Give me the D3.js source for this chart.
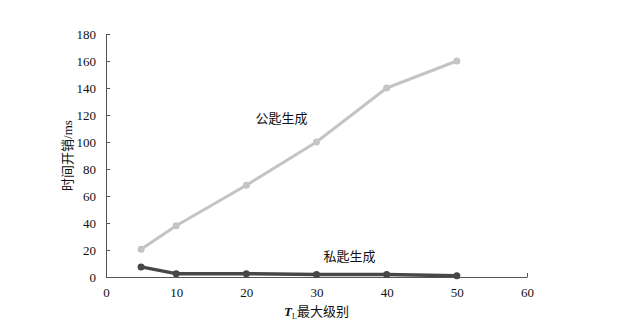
<!DOCTYPE html>
<html>
<head>
<meta charset="utf-8">
<script src="https://cdn.jsdelivr.net/npm/d3@7"></script>
<style>
  body { margin: 0; background: #fff; }
  text { font-family: "Liberation Serif", "Noto Sans CJK SC", serif; fill: #111; }
</style>
</head>
<body>
<script>
const width = 635;
const height = 324;

// data
const levels = [5, 10, 20, 30, 40, 50];
const publicKeyMs = [20.5, 38, 68, 100, 140, 160];
const privateKeyMs = [7.5, 2.5, 2.5, 1.8, 1.8, 1.0];
const xTicks = [0, 10, 20, 30, 40, 50, 60];
const yTicks = [0, 20, 40, 60, 80, 100, 120, 140, 160, 180];

const margin = { left: 106, right: 108, top: 34, bottom: 47 };

const svg = d3.select("body").append("svg")
  .attr("width", width)
  .attr("height", height);

const x = d3.scaleLinear().domain([0, 60]).range([margin.left, width - margin.right]);
const y = d3.scaleLinear().domain([0, 180]).range([height - margin.bottom, margin.top]);

const xAxis = d3.axisBottom(x).tickValues(xTicks).tickSize(-4).tickPadding(11).tickSizeOuter(0);
const yAxis = d3.axisLeft(y).tickValues(yTicks).tickSize(-4).tickPadding(10).tickSizeOuter(0);

const gx = svg.append("g")
  .attr("transform", `translate(0, ${y(0)})`)
  .call(xAxis);
const gy = svg.append("g")
  .attr("transform", `translate(${x(0)}, 0)`)
  .call(yAxis);

[gx, gy].forEach(g => {
  g.selectAll("path, line").attr("stroke", "#555").attr("stroke-width", 1);
  g.selectAll("text").attr("font-size", 13).attr("fill", "#111");
});

// lines
const series = [
  { values: publicKeyMs, color: "#c4c4c4", w: 3 },
  { values: privateKeyMs, color: "#474747", w: 3.5 }
];

const line = d3.line().x(d => x(d[0])).y(d => y(d[1]));

series.forEach(s => {
  const pts = levels.map((l, i) => [l, s.values[i]]);
  svg.append("path")
    .datum(pts)
    .attr("fill", "none")
    .attr("stroke", s.color)
    .attr("stroke-width", s.w)
    .attr("stroke-linejoin", "round")
    .attr("d", line);
  svg.selectAll(null)
    .data(pts)
    .enter()
    .append("circle")
    .attr("cx", d => x(d[0]))
    .attr("cy", d => y(d[1]))
    .attr("r", 3.5)
    .attr("fill", s.color);
});

// series labels
svg.append("text")
  .attr("x", x(21.3))
  .attr("y", y(114))
  .attr("font-size", 13)
  .text("公匙生成");
svg.append("text")
  .attr("x", x(31))
  .attr("y", y(12))
  .attr("font-size", 13)
  .text("私匙生成");

// axis titles
svg.append("text")
  .attr("transform", `translate(72, ${y(90)}) rotate(-90)`)
  .attr("text-anchor", "middle")
  .attr("font-size", 13)
  .text("时间开销/ms");

const xt = svg.append("text")
  .attr("x", x(30))
  .attr("y", 316)
  .attr("text-anchor", "middle")
  .attr("font-size", 13);
xt.append("tspan").attr("font-style", "italic").attr("font-weight", "bold").text("T");
xt.append("tspan").attr("font-size", 8).attr("dy", 3).text("L");
xt.append("tspan").attr("dy", -3).text("最大级别");
</script>
</body>
</html>
